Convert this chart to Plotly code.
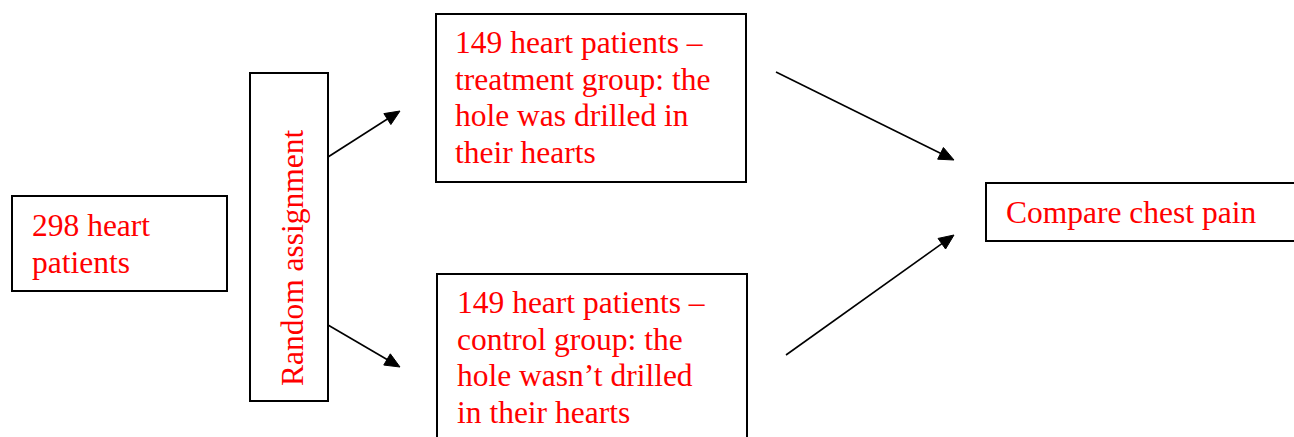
import math
import plotly.graph_objects as go

# ---- content (text only) ----
start_lines = ["298 heart", "patients"]
assign_label = "Random assignment"
treatment_lines = ["149 heart patients \u2013", "treatment group: the", "hole was drilled in", "their hearts"]
control_lines = ["149 heart patients \u2013", "control group: the", "hole wasn\u2019t drilled", "in their hearts"]
compare_lines = ["Compare chest pain"]

# ---- layout geometry (pixel space of the window, y down) ----
W, H = 1294, 437
FONT = dict(family="Liberation Serif, Times New Roman, serif", size=31.5, color="#FF0000")
LINE_GAP = 36.7
BASE_OFF = 10.5  # baseline minus bbox middle

boxes = [  # x0, y0, x1, y1, text_x, first_baseline, lines
    (12, 196, 227, 291, 30, 236, start_lines),
    (436, 14, 746, 182, 453, 53, treatment_lines),
    (437, 274, 747, 445, 455, 313, control_lines),
    (986, 183, 1300, 241, 1004, 223, compare_lines),
]
assign_box = (250, 73, 328, 401)
assign_center = (292, 258)

arrows = [  # start, tip
    ((328, 157), (400, 111)),
    ((328, 325), (400, 367)),
    ((776, 72), (954, 160)),
    ((786, 355), (954, 235)),
]

fig = go.Figure()
shapes = []
annotations = []

def rect(x0, y0, x1, y1):
    return dict(type="rect", xref="x", yref="y", x0=x0, y0=y0, x1=x1, y1=y1,
                line=dict(color="black", width=2), fillcolor="rgba(0,0,0,0)")

for x0, y0, x1, y1, tx, b0, lines in boxes:
    shapes.append(rect(x0, y0, x1, y1))
    for i, ln in enumerate(lines):
        annotations.append(dict(x=tx, y=b0 + i * LINE_GAP - BASE_OFF, xref="x", yref="y",
                                text=ln, showarrow=False, xanchor="left", yanchor="middle",
                                font=FONT))

shapes.append(rect(*assign_box))
annotations.append(dict(x=assign_center[0], y=assign_center[1], xref="x", yref="y",
                        text=assign_label, showarrow=False, textangle=-90,
                        xanchor="center", yanchor="middle", font=FONT))

HEAD_L, HEAD_W = 15, 13
for (sx, sy), (ex, ey) in arrows:
    dx, dy = ex - sx, ey - sy
    L = math.hypot(dx, dy)
    ux, uy = dx / L, dy / L
    bx, by = ex - ux * HEAD_L, ey - uy * HEAD_L
    px, py = -uy * HEAD_W / 2, ux * HEAD_W / 2
    shapes.append(dict(type="line", xref="x", yref="y", x0=sx, y0=sy, x1=bx + ux, y1=by + uy,
                       line=dict(color="black", width=1.6)))
    path = f"M{ex},{ey} L{bx + px},{by + py} L{bx - px},{by - py} Z"
    shapes.append(dict(type="path", xref="x", yref="y", path=path,
                       fillcolor="black", line=dict(color="black", width=1)))

fig.update_layout(
    width=W, height=H, margin=dict(l=0, r=0, t=0, b=0),
    paper_bgcolor="white", plot_bgcolor="white",
    xaxis=dict(range=[0, W], visible=False, fixedrange=True),
    yaxis=dict(range=[H, 0], visible=False, fixedrange=True),
    shapes=shapes, annotations=annotations, showlegend=False,
)
fig.write_html(
    "out.html",
    config={"displayModeBar": False, "staticPlot": True},
    post_script="document.body.style.margin='0';document.body.style.overflow='hidden';",
)
